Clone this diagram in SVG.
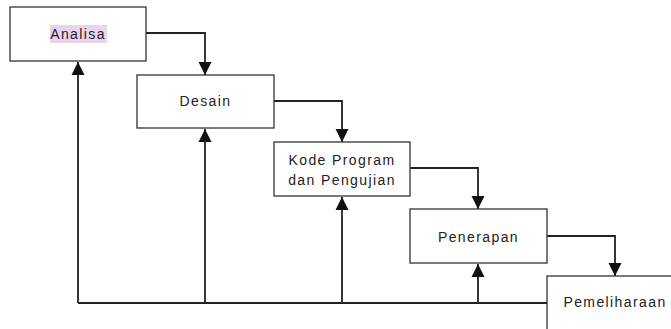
<svg xmlns="http://www.w3.org/2000/svg" width="671" height="329" viewBox="0 0 671 329">
<style>
.box{fill:#fff;stroke:#333;stroke-width:1.3}
.lbl{font-family:"Liberation Sans",Arial,sans-serif;font-size:14px;fill:#222;text-anchor:middle;letter-spacing:1.4px}
.con{fill:none;stroke:#222;stroke-width:1.8}
</style>
<defs>
<marker id="a" viewBox="0 0 13 14" refX="13" refY="7" markerWidth="13" markerHeight="14" markerUnits="userSpaceOnUse" orient="auto">
<path d="M0,0.5 L13,7 L0,13.5 z" fill="#111"/>
</marker>
</defs>
<g id="connectors">
<path class="con" d="M146,33 H205 V75" marker-end="url(#a)"/>
<path class="con" d="M274,101 H342 V142" marker-end="url(#a)"/>
<path class="con" d="M410,168 H478 V209" marker-end="url(#a)"/>
<path class="con" d="M547,236 H615 V276" marker-end="url(#a)"/>
<path class="con" d="M547,303 H78"/>
<path class="con" d="M78,303 V62" marker-end="url(#a)"/>
<path class="con" d="M205,303 V129" marker-end="url(#a)"/>
<path class="con" d="M342,303 V197" marker-end="url(#a)"/>
<path class="con" d="M478,303 V264" marker-end="url(#a)"/>
</g>
<g id="analisa">
<rect class="box" x="10" y="7" width="136" height="54"/>
<rect x="50" y="25" width="57" height="18" fill="#ead3ec"/>
<text class="lbl" x="78" y="39">Analisa</text>
</g>
<g id="desain">
<rect class="box" x="137" y="75" width="137" height="53"/>
<text class="lbl" x="205.5" y="106">Desain</text>
</g>
<g id="kode">
<rect class="box" x="274" y="142" width="136" height="54"/>
<text class="lbl" x="342" y="165">Kode Program</text>
<text class="lbl" x="342" y="185">dan Pengujian</text>
</g>
<g id="penerapan">
<rect class="box" x="410" y="209" width="137" height="54"/>
<text class="lbl" x="478.5" y="242">Penerapan</text>
</g>
<g id="pemeliharaan">
<rect class="box" x="547" y="276" width="130" height="60"/>
<text class="lbl" x="615" y="307">Pemeliharaan</text>
</g>
</svg>
